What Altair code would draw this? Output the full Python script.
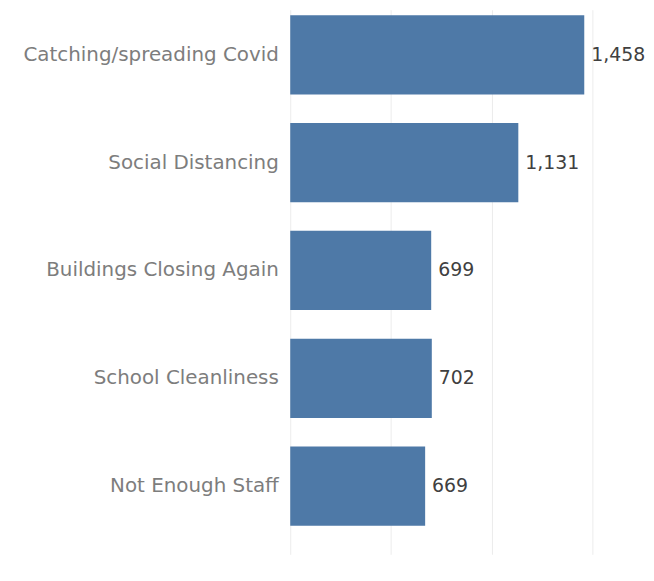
import altair as alt
import pandas as pd

categories = ["Catching/spreading Covid", "Social Distancing", "Buildings Closing Again",
              "School Cleanliness", "Not Enough Staff"]
values = [1458, 1131, 699, 702, 669]
grid_values = [0, 500, 1000, 1500]

df = pd.DataFrame({"concern": categories, "count": values})

FONT = "DejaVu Sans"

y_enc = alt.Y("concern:N", sort=categories,
              scale=alt.Scale(paddingInner=0.265, paddingOuter=0.157, align=0.16),
              axis=alt.Axis(title=None, ticks=False, domain=False, labelFontSize=20,
                            labelColor="#7d7d7d", labelFont=FONT, labelPadding=12,
                            labelLimit=400, grid=False))
x_enc = alt.X("count:Q", scale=alt.Scale(domain=[0, 1705], nice=False),
              axis=alt.Axis(title=None, labels=False, ticks=False, domain=False,
                            values=grid_values, grid=True, gridColor="#ececec",
                            gridWidth=1))

bars = alt.Chart(df).mark_bar(color="#4e79a7").encode(x=x_enc, y=y_enc)
text = alt.Chart(df).mark_text(align="left", baseline="middle", dx=7, fontSize=19,
                               font=FONT, color="#404040").encode(
    x=alt.X("count:Q"), y=alt.Y("concern:N", sort=categories),
    text=alt.Text("count:Q", format=","))

chart = (bars + text).properties(
    width=346, height=548,
    padding={"left": 14, "top": 0, "right": 0, "bottom": 0}
).configure_view(stroke=None)

chart.save("out.html", embed_options={"renderer": "svg", "actions": False})
